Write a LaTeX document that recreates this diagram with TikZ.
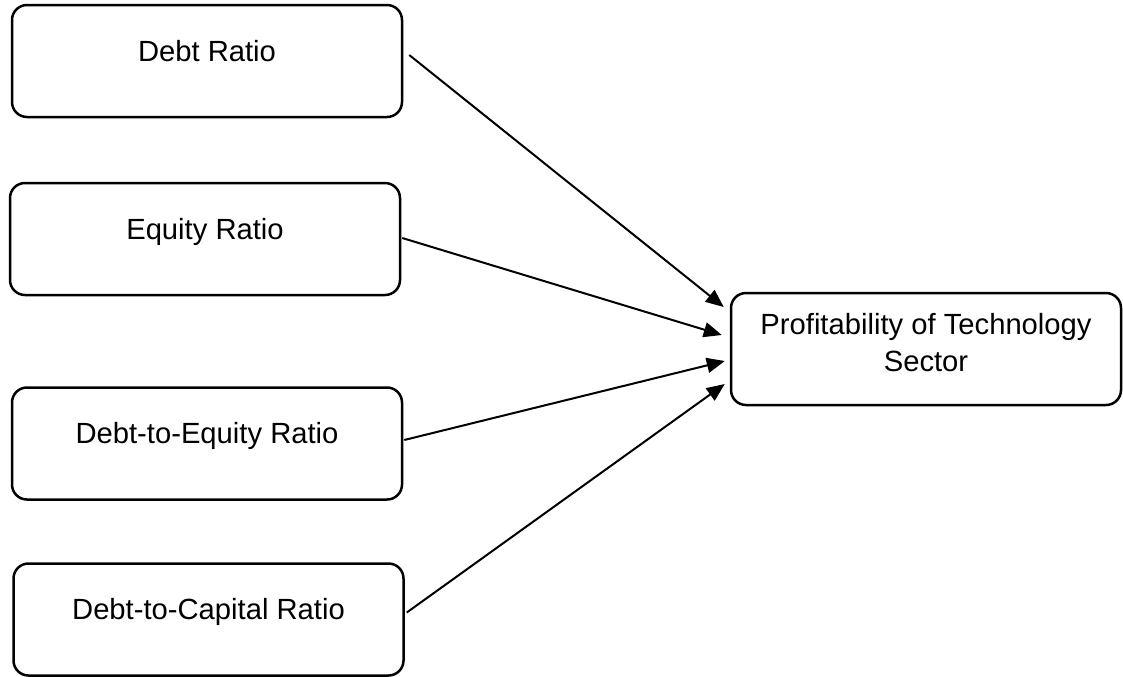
\documentclass[tikz,border=0pt]{standalone}
\usepackage{fontspec}
\setmainfont{Liberation Sans}
\usetikzlibrary{arrows.meta}

\begin{document}
\begin{tikzpicture}[x=0.5pt, y=-0.5pt,
  ratio/.style={draw, line width=1.25pt, rounded corners=7.5pt,
    minimum width=195pt, minimum height=56pt, inner sep=0pt,
    font=\fontsize{14.6pt}{18.4pt}\selectfont, text height=8pt, text depth=8pt},
  arr/.style={-{Triangle[length=9pt,width=7.5pt]}, line width=1pt}]
  \useasboundingbox (0,0) rectangle (1123,676);
  \node[ratio] at (207,61) (debt) {Debt Ratio};
  \node[ratio] at (205,239) (equity) {Equity Ratio};
  \node[ratio] at (207,443.5) (dte) {Debt-to-Equity Ratio};
  \node[ratio] at (208.5,619.5) (dtc) {Debt-to-Capital Ratio};
  \node[ratio, align=center, text height=28pt, text depth=5.3pt] at (926,349) (profit)
    {Profitability of Technology\\Sector};
  \draw [arr] ([shift={(6,-6)}]debt.east) -- ([shift={(-6,-42)}]profit.west);
  \draw [arr] ([shift={(1,-1)}]equity.east) -- ([shift={(-8,-14)}]profit.west);
  \draw [arr] ([shift={(1,-3.5)}]dte.east) -- ([shift={(-5,12)}]profit.west);
  \draw [arr] ([shift={(2,-7)}]dtc.east) -- ([shift={(-5,35)}]profit.west);
\end{tikzpicture}
\end{document}
